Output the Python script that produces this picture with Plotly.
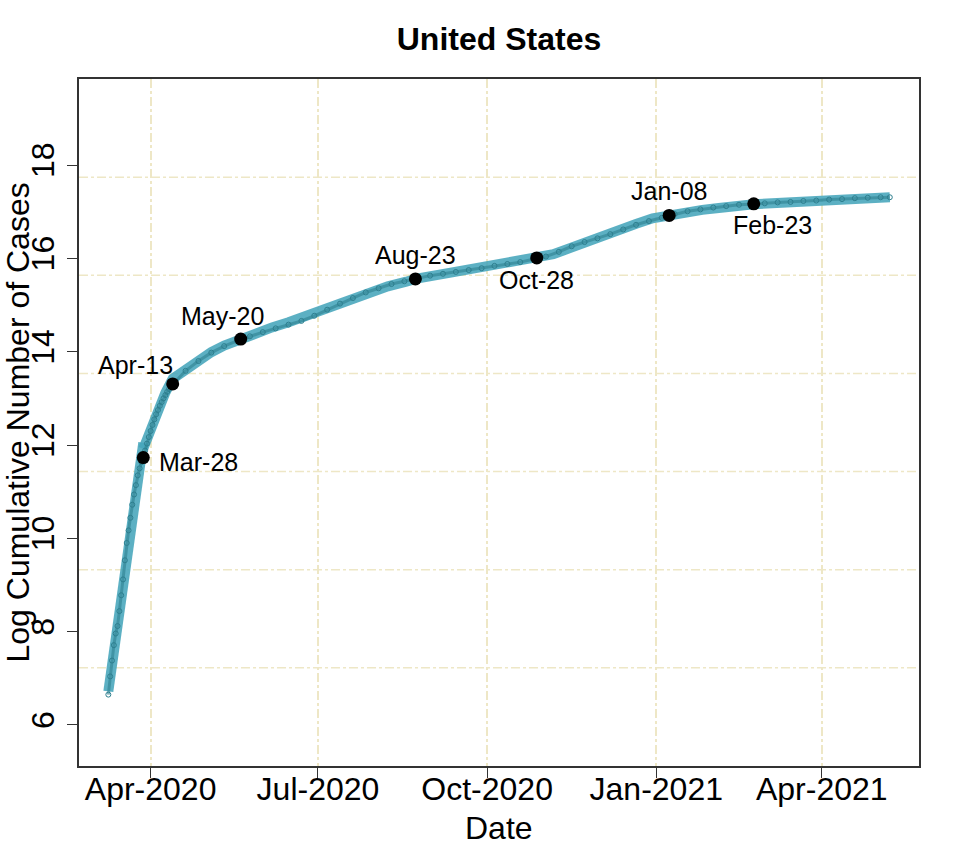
import pandas as pd
import plotly.graph_objects as go

# ---------------- data ----------------
# daily observations, 2020-03-09 .. 2020-04-13
early_dates = pd.date_range("2020-03-09", "2020-04-13", freq="D")
early_vals = [6.65, 7.04, 7.38, 7.71, 7.96, 8.12, 8.44, 8.78, 9.12, 9.53,
              9.90, 10.17, 10.44, 10.72, 10.94, 11.14, 11.35, 11.50, 11.63, 11.72,
              11.88, 12.03, 12.17, 12.30, 12.43, 12.55, 12.66, 12.75, 12.84, 12.92,
              13.00, 13.07, 13.14, 13.20, 13.25, 13.30]

# weekly observations afterwards
late_dates = list(pd.date_range("2020-04-20", "2021-05-03", freq="7D")) + [pd.Timestamp("2021-05-08")]
late_vals = [13.59, 13.80, 13.98, 14.12, 14.23, 14.33,
             14.42, 14.50, 14.58, 14.66, 14.77,
             14.90, 15.03, 15.15, 15.27,
             15.36, 15.45, 15.51, 15.57, 15.63,
             15.67, 15.71, 15.75, 15.79,
             15.84, 15.88, 15.92, 15.98,
             16.04, 16.14, 16.26, 16.35, 16.43,
             16.52, 16.62, 16.72, 16.80,
             16.87, 16.95, 17.01, 17.05,
             17.09, 17.12, 17.15, 17.16,
             17.18, 17.20, 17.21, 17.23, 17.24,
             17.26, 17.27, 17.29, 17.30,
             17.31, 17.31]

obs_dates = list(early_dates) + late_dates
obs_vals = early_vals + late_vals

# fitted (segmented) curve
fit_dates = ["2020-03-09", "2020-03-28", None,
             "2020-03-28", "2020-04-01", "2020-04-05", "2020-04-09", "2020-04-13",
             "2020-04-20", "2020-04-27", "2020-05-04", "2020-05-11", "2020-05-20",
             "2020-05-29", "2020-06-06", "2020-06-15", "2020-06-24", "2020-07-02",
             "2020-07-12", "2020-07-21", "2020-07-30", "2020-08-08", "2020-08-18",
             "2020-08-23", "2020-09-12", "2020-09-30", "2020-10-15", "2020-10-28",
             "2020-11-06", "2020-11-15", "2020-11-24", "2020-12-03", "2020-12-12",
             "2020-12-21", "2020-12-30", "2021-01-08", "2021-01-17", "2021-01-26",
             "2021-02-04", "2021-02-13", "2021-02-23", "2021-03-13", "2021-03-31",
             "2021-04-18", "2021-05-08"]
fit_vals = [6.72, 12.05, None,
            11.92, 12.35, 12.78, 13.12, 13.42,
            13.62, 13.82, 13.99, 14.13, 14.28,
            14.39, 14.52, 14.63, 14.76, 14.87,
            15.04, 15.17, 15.30, 15.40, 15.50,
            15.56, 15.70, 15.81, 15.92, 16.00,
            16.09, 16.22, 16.36, 16.49, 16.61,
            16.74, 16.86, 16.93, 16.99, 17.04,
            17.08, 17.13, 17.16, 17.20, 17.24,
            17.28, 17.31]

# change points
break_labels = ["Mar-28", "Apr-13", "May-20", "Aug-23", "Oct-28", "Jan-08", "Feb-23"]
break_dates = ["2020-03-28", "2020-04-13", "2020-05-20", "2020-08-23",
               "2020-10-28", "2021-01-08", "2021-02-23"]
break_vals = [11.73, 13.31, 14.27, 15.56, 16.01, 16.92, 17.17]

# axis ticks
x_tick_dates = ["2020-04-01", "2020-07-01", "2020-10-01", "2021-01-01", "2021-04-01"]
x_tick_text = ["Apr-2020", "Jul-2020", "Oct-2020", "Jan-2021", "Apr-2021"]
y_tick_vals = [6, 8, 10, 12, 14, 16, 18]

# ---------------- styling ----------------
FONT = "Liberation Sans, Arial, Helvetica, sans-serif"
GRID = "#EEE7C6"
x_range = ["2020-02-22 01:00", "2021-05-23 21:00"]
y_range = [5.12, 19.845]

# label offsets in px (dx, dy)
label_offsets = [(55, -4), (-37, 19), (-18, 23), (0, 24), (0, -22), (0, 24), (19, -21)]

fig = go.Figure()

fig.add_trace(go.Scatter(
    x=fit_dates, y=fit_vals, mode="lines", connectgaps=False,
    line=dict(color="rgba(70,165,187,0.88)", width=10),
    hoverinfo="skip", showlegend=False))

fig.add_trace(go.Scatter(
    x=obs_dates, y=obs_vals, mode="lines+markers",
    line=dict(color="rgba(45,128,143,0.6)", width=3),
    marker=dict(symbol="circle-open", size=5, color="#2E7F8F", line=dict(width=1)),
    showlegend=False))

fig.add_trace(go.Scatter(
    x=break_dates, y=break_vals, mode="markers",
    marker=dict(symbol="circle", size=13, color="black"),
    showlegend=False))

annotations = []
for lab, d, v, (dx, dy) in zip(break_labels, break_dates, break_vals, label_offsets):
    annotations.append(dict(
        x=d, y=v, xref="x", yref="y", text=lab, showarrow=False,
        xanchor="center", yanchor="middle", xshift=dx, yshift=dy,
        font=dict(family=FONT, size=25, color="black")))

annotations.append(dict(
    x=0, y=0.5, xref="paper", yref="paper", text="Log Cumulative Number of Cases",
    textangle=-90, showarrow=False, xanchor="center", yanchor="middle", xshift=-62,
    font=dict(family=FONT, size=32, color="black")))
annotations.append(dict(
    x=0.5, y=0, xref="paper", yref="paper", text="Date", showarrow=False,
    xanchor="center", yanchor="middle", yshift=-62,
    font=dict(family=FONT, size=32, color="black")))

# horizontal grid lines, dividing the y range into 7 cells (like R's grid())
shapes = []
n_cells = 7
for k in range(1, n_cells):
    yk = y_range[0] + k * (y_range[1] - y_range[0]) / n_cells
    shapes.append(dict(type="line", xref="paper", yref="y", x0=0, x1=1, y0=yk, y1=yk,
                       line=dict(color=GRID, width=1.5, dash="dashdot"), layer="below"))

fig.update_layout(
    width=960, height=864,
    margin=dict(l=79, r=41, t=79, b=98),
    paper_bgcolor="white", plot_bgcolor="white",
    title=dict(text="United States", x=0.5, xanchor="center", xref="paper",
               y=1 - 39 / 864, yref="container", yanchor="middle",
               font=dict(family=FONT, size=32, color="black", weight="bold")),
    annotations=annotations,
    shapes=shapes,
    showlegend=False,
)

fig.update_xaxes(
    type="date", range=x_range,
    tickmode="array", tickvals=x_tick_dates, ticktext=x_tick_text,
    ticks="outside", ticklen=10, tickwidth=1.3, tickcolor="#333",
    tickfont=dict(family=FONT, size=32, color="black"),
    showgrid=True, gridcolor=GRID, gridwidth=1.5, griddash="dashdot",
    showline=True, linecolor="#333", linewidth=1.5, mirror=True,
    zeroline=False, ticklabelstandoff=-16,
)
fig.update_yaxes(
    range=y_range, tickmode="array", tickvals=y_tick_vals,
    ticks="outside", ticklen=10, tickwidth=1.3, tickcolor="#333",
    tickangle=-90,
    tickfont=dict(family=FONT, size=32, color="black"),
    showgrid=False,
    showline=True, linecolor="#333", linewidth=1.5, mirror=True,
    zeroline=False, ticklabelstandoff=0,
)

fig.write_html("out.html", config={"displayModeBar": False},
               post_script="document.body.style.margin='0';")
